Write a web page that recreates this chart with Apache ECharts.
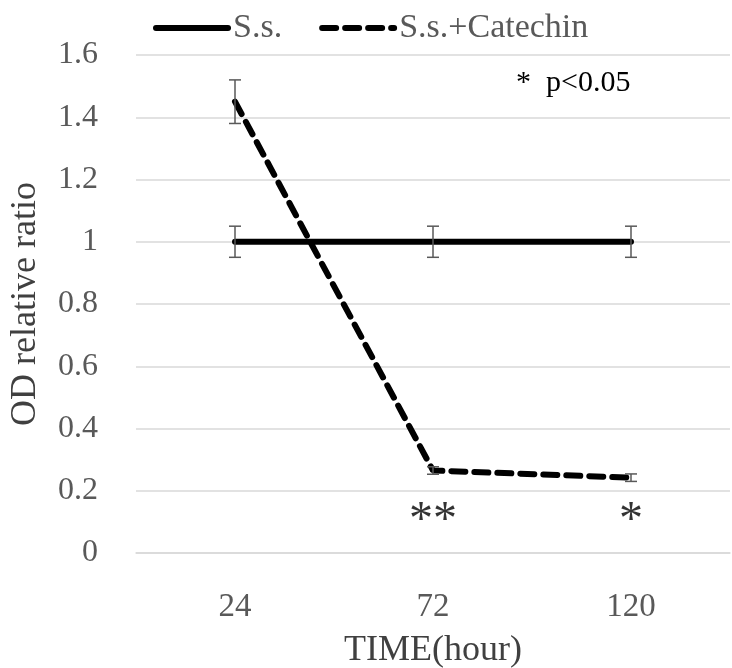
<!DOCTYPE html>
<html>
<head>
<meta charset="utf-8">
<script src="https://cdn.jsdelivr.net/npm/echarts@6/dist/echarts.min.js"></script>
<style>
html,body{margin:0;padding:0;background:#fff;}
#chart{width:732px;height:668px;}
</style>
</head>
<body>
<div id="chart"></div>
<script>
var categories = ['24', '72', '120'];
var ssValues = [1, 1, 1];
var ssErr = [0.05, 0.05, 0.05];
var catValues = [1.45, 0.265, 0.242];
var catErr = [0.07, 0.012, 0.012];
var sigLabels = ['', '**', '*'];
var sigY = 0.1;
var yMin = 0, yMax = 1.6, yStep = 0.2;

var FONT = '"Liberation Serif", "DejaVu Serif", serif';

function errData(vals, errs) {
  return vals.map(function (v, i) { return [i, v - errs[i], v + errs[i]]; });
}
function errRender(params, api) {
  var i = api.value(0);
  var lo = api.coord([i, api.value(1)]);
  var hi = api.coord([i, api.value(2)]);
  var w = 6;
  var st = { stroke: '#595959', lineWidth: 1.5 };
  return {
    type: 'group',
    children: [
      { type: 'line', shape: { x1: hi[0], y1: hi[1], x2: lo[0], y2: lo[1] }, style: st },
      { type: 'line', shape: { x1: hi[0] - w, y1: hi[1], x2: hi[0] + w, y2: hi[1] }, style: st },
      { type: 'line', shape: { x1: lo[0] - w, y1: lo[1], x2: lo[0] + w, y2: lo[1] }, style: st }
    ]
  };
}

var chart = echarts.init(document.getElementById('chart'));
chart.setOption({
  animation: false,
  backgroundColor: '#fff',
  textStyle: { fontFamily: FONT },
  grid: { left: 136, right: 2, top: 55, bottom: 115, containLabel: false, outerBoundsMode: 'none' },
  legend: {
    data: ['S.s.', 'S.s.+Catechin'],
    left: 148, top: 6,
    itemWidth: 72, itemHeight: 10, itemGap: 37,
    itemStyle: { opacity: 0 },
    lineStyle: { width: 6, cap: 'round' },
    textStyle: { fontFamily: FONT, fontSize: 34, color: '#595959' }
  },
  xAxis: {
    type: 'category',
    data: categories,
    name: 'TIME(hour)',
    nameLocation: 'middle',
    nameGap: 80,
    nameTextStyle: { fontFamily: FONT, fontSize: 36, color: '#404040' },
    axisLine: { lineStyle: { color: '#d9d9d9', width: 1.5 } },
    axisTick: { show: false },
    axisLabel: { margin: 38, fontFamily: FONT, fontSize: 33, color: '#595959' }
  },
  yAxis: {
    type: 'value',
    min: yMin, max: yMax, interval: yStep,
    name: 'OD relative ratio',
    nameLocation: 'middle',
    nameGap: 92,
    nameTextStyle: { fontFamily: FONT, fontSize: 36, color: '#404040' },
    axisLine: { show: false },
    axisTick: { show: false },
    axisLabel: { margin: 38, fontFamily: FONT, fontSize: 32, color: '#595959' },
    splitLine: { lineStyle: { color: '#d9d9d9', width: 1.5 } }
  },
  graphic: [
    { type: 'text', left: 516, top: 68, style: { text: '*  p<0.05', font: '30px ' + FONT, fill: '#000' } }
  ],
  series: [
    {
      name: 'S.s.', type: 'line', data: ssValues, symbol: 'none', z: 3,
      lineStyle: { color: '#000', width: 6, cap: 'round' },
      itemStyle: { color: '#000' }
    },
    {
      name: 'S.s.+Catechin', type: 'line', data: catValues, symbol: 'none', z: 3,
      lineStyle: { color: '#000', width: 6, type: [14, 9], cap: 'round' },
      itemStyle: { color: '#000' }
    },
    { type: 'custom', renderItem: errRender, data: errData(ssValues, ssErr), z: 4, silent: true },
    { type: 'custom', renderItem: errRender, data: errData(catValues, catErr), z: 4, silent: true },
    {
      type: 'scatter', symbolSize: 0, silent: true,
      data: sigLabels.map(function (s, i) { return [i, sigY, s]; }),
      label: {
        show: true, position: 'inside',
        formatter: function (p) { return p.data[2]; },
        fontFamily: FONT, fontSize: 48, color: '#000'
      }
    }
  ]
});
</script>
</body>
</html>
